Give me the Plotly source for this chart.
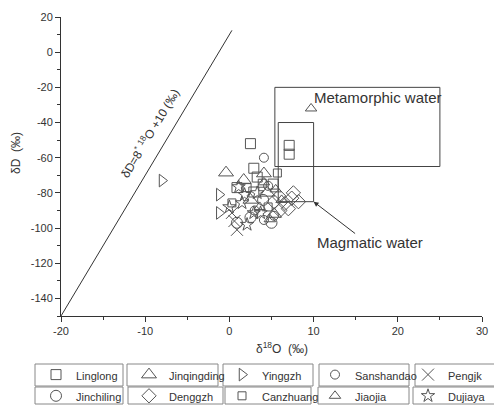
import plotly.graph_objects as go

# ---------------- data ----------------
series_names = ["Linglong", "Jinqingding", "Yinggzh", "Sanshandao", "Pengjk",
                "Jinchiling", "Denggzh", "Canzhuang", "Jiaojia", "Dujiaya"]

linglong_x = [2.5, 7.1, 7.1, 2.9, 3.3, 0.9, 2.9, 5.2]
linglong_y = [-52, -53, -58, -66, -71, -77, -79.5, -75]

jinqingding_x = [-0.4, 1.7, 4.1, 4.5, 2.5, 5.3]
jinqingding_y = [-68.5, -72.7, -69, -80, -84, -92]

yinggzh_x = [-8.0, -1.2, -1.2]
yinggzh_y = [-73, -81, -91.4]

sanshandao_x = [4.1, 4.6, 4.1, 5.3, 3.0]
sanshandao_y = [-60, -76, -95.4, -93, -90]

pengjk_x = [0.3, 0.9, 0.6]
pengjk_y = [-91.4, -101, -96]

jinchiling_x = [0.9, 5.0, 2.5, 4.0]
jinchiling_y = [-97, -97, -94, -84]

denggzh_x = [5.9, 6.6, 7.4, 8.2, 7.0, 6.0, 5.3, 7.6]
denggzh_y = [-82, -86, -83, -85, -89, -90, -85, -80]

canzhuang_x = [0.3, 2.1, 3.9, 5.7, 4.6]
canzhuang_y = [-85.7, -77, -74.5, -68.7, -88]

jiaojia_x = [9.7, 4.1, 5.5, 3.6, 6.2, 4.8]
jiaojia_y = [-32, -74, -78, -88, -84, -95]

dujiaya_x = [1.1, 1.5, 3.3, 2.9, 3.7, 2.1, 0.0, 1.8]
dujiaya_y = [-76.6, -85.7, -80, -91.4, -91.4, -98, -88, -81]

# meteoric water line dD = 8*d18O + 10
mwl_x = [-20.0, 0.3]
mwl_y = [8 * v + 10 for v in mwl_x]

# reference fields
metamorphic_box = dict(x0=5.4, x1=25, y0=-65, y1=-20)
magmatic_box = dict(x0=5.8, x1=10, y0=-85, y1=-40)

x_range = [-20, 30]
y_range = [-150, 20]
x_tickvals = [-20, -10, 0, 10, 20, 30]
x_ticktext = ["-20", "-10", "0", "10", "20", "30"]
y_tickvals = [20, 0, -20, -40, -60, -80, -100, -120, -140]
y_ticktext = ["20", "0", "-20", "-40", "-60", "-80", "-100", "-120", "-140"]

# ---------------- style ----------------
OFF = 8                      # page body margin
W, H = 502 - OFF, 405 - OFF
ML, MR, MT, MB = 61 - OFF, 20, 17 - OFF, 89
PW, PH = W - ML - MR, H - MT - MB
GRAY = "#555555"
FONT = "Liberation Sans, Arial, sans-serif"

styles = {
    "Linglong": ("square-open", 10),
    "Jinqingding": ("triangle-up-open", 13),
    "Yinggzh": ("triangle-right-open", 11),
    "Sanshandao": ("circle-open", 9),
    "Pengjk": ("x-thin-open", 12),
    "Jinchiling": ("circle-open", 11),
    "Denggzh": ("diamond-open", 11),
    "Canzhuang": ("square-open", 8),
    "Jiaojia": ("triangle-up-open", 10),
    "Dujiaya": ("star-open", 10),
}
data = {
    "Linglong": (linglong_x, linglong_y),
    "Jinqingding": (jinqingding_x, jinqingding_y),
    "Yinggzh": (yinggzh_x, yinggzh_y),
    "Sanshandao": (sanshandao_x, sanshandao_y),
    "Pengjk": (pengjk_x, pengjk_y),
    "Jinchiling": (jinchiling_x, jinchiling_y),
    "Denggzh": (denggzh_x, denggzh_y),
    "Canzhuang": (canzhuang_x, canzhuang_y),
    "Jiaojia": (jiaojia_x, jiaojia_y),
    "Dujiaya": (dujiaya_x, dujiaya_y),
}


def px2paper(px, py):
    """page pixel -> paper coords"""
    return (px - OFF - ML) / PW, (H - MB - (py - OFF)) / PH


fig = go.Figure()

fig.add_trace(go.Scatter(x=mwl_x, y=mwl_y, mode="lines",
                         line=dict(color="#333333", width=1), showlegend=False,
                         hoverinfo="skip"))

for name in series_names:
    sym, sz = styles[name]
    xs, ys = data[name]
    fig.add_trace(go.Scatter(
        x=xs, y=ys, mode="markers",
        name='<span style="font-size:11px">' + name + '</span>',
        marker=dict(symbol=sym, size=sz, color=GRAY,
                    line=dict(color=GRAY, width=1)),
    ))

shapes = []
for b in (metamorphic_box, magmatic_box):
    shapes.append(dict(type="rect", xref="x", yref="y", **b,
                       line=dict(color="#444444", width=1)))

# legend cell frames (page pixel positions of the reference)
cells = [
    (35, 364, 123, 386), (127, 364, 218, 386), (223, 364, 313, 386),
    (319, 364, 409, 386), (415, 364, 501, 386),
    (35, 387, 123, 404), (128, 387, 223, 404), (225, 387, 311, 404),
    (318, 387, 409, 404), (413, 387, 501, 404),
]
for (a, b, c, d) in cells:
    x0, y0 = px2paper(a, d)
    x1, y1 = px2paper(c, b)
    shapes.append(dict(type="rect", xref="paper", yref="paper",
                       x0=x0, x1=x1, y0=y0, y1=y1,
                       line=dict(color="#888888", width=1)))

mag_x, mag_y = px2paper(370, 243)
xt_x, xt_y = px2paper(282, 348)
yt_x, yt_y = px2paper(16, 153)
leg_x, leg_y = px2paper(36, 359)

annotations = [
    dict(x=9.8, y=-25.5, xref="x", yref="y", text="Metamorphic water",
         showarrow=False, xanchor="left", yanchor="middle",
         font=dict(size=15, color="#333333", family=FONT)),
    dict(x=10, y=-85, xref="x", yref="y", ax=43, ay=33,
         text="", showarrow=True, arrowhead=2, arrowsize=1, arrowwidth=1,
         arrowcolor="#333333", standoff=0),
    dict(x=mag_x, y=mag_y, xref="paper", yref="paper",
         xanchor="center", yanchor="middle",
         text="Magmatic water", showarrow=False,
         font=dict(size=15, color="#333333", family=FONT)),
    dict(x=-9.5, y=-46, xref="x", yref="y",
         xanchor="center", yanchor="middle",
         text="δD=8<sup>*</sup> <sup>18</sup>O +10 (‰)", textangle=-59,
         showarrow=False, font=dict(size=12, color="#333333", family=FONT)),
    dict(x=xt_x, y=xt_y, xref="paper", yref="paper",
         xanchor="center", yanchor="middle",
         text="δ<sup>18</sup>O  (‰)", showarrow=False,
         font=dict(size=12, color="#333333", family=FONT)),
    dict(x=yt_x, y=yt_y, xref="paper", yref="paper",
         xanchor="center", yanchor="middle",
         text="δD  (‰)", textangle=-90, showarrow=False,
         font=dict(size=12, color="#333333", family=FONT)),
]

axis_common = dict(showgrid=False, zeroline=False, showline=True,
                   linecolor="#333333", linewidth=1, ticks="outside",
                   ticklen=5, tickcolor="#333333",
                   tickfont=dict(size=11, color="#333333", family=FONT),
                   mirror=False)

fig.update_layout(
    width=W, height=H, autosize=False,
    margin=dict(l=ML, r=MR, t=MT, b=MB, autoexpand=False),
    paper_bgcolor="white", plot_bgcolor="white",
    font=dict(family=FONT, color="#333333"),
    xaxis=dict(range=x_range, tickmode="array", tickvals=x_tickvals, ticktext=x_ticktext,
               minor=dict(dtick=5, tick0=0, ticks="outside", ticklen=3, tickcolor="#333333"),
               **axis_common),
    yaxis=dict(range=y_range, tickmode="array", tickvals=y_tickvals, ticktext=y_ticktext,
               minor=dict(dtick=10, tick0=0, ticks="outside", ticklen=3, tickcolor="#333333"),
               **axis_common),
    shapes=shapes,
    annotations=annotations,
    showlegend=True,
    legend=dict(orientation="h", xref="paper", yref="paper",
                x=leg_x, y=leg_y, xanchor="left", yanchor="top",
                entrywidth=48, entrywidthmode="pixels",
                font=dict(size=14, color="#333333", family=FONT),
                bgcolor="rgba(0,0,0,0)", borderwidth=0,
                itemclick=False, itemdoubleclick=False),
)

fig.write_html("out.html")
